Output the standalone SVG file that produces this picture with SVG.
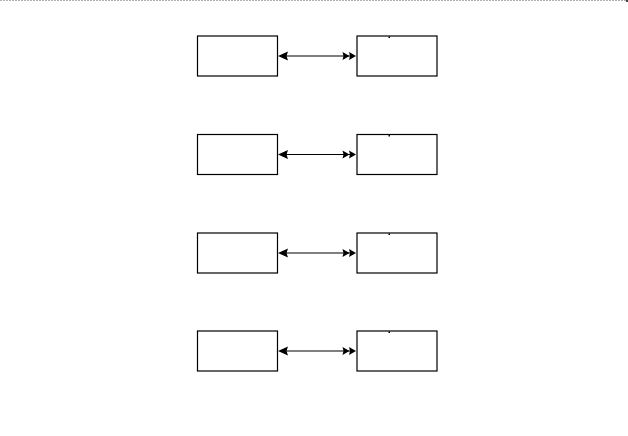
<svg xmlns="http://www.w3.org/2000/svg" width="628" height="436" viewBox="0 0 628 436">
<style>
.box{fill:#ffffff;stroke:#000000;stroke-width:1.2}
.dot{fill:#000000}
.conn{stroke:#000000;stroke-width:1.2;fill:none}
.ah{fill:#000000;stroke:none}
.frame{stroke:#b0b0b0;stroke-width:1;stroke-dasharray:2 1;fill:none}
</style>
<defs>
<g id="leftHead"><polygon class="ah" points="0,0 10,-4.5 8.5,0 10,4.5"/></g>
<g id="rightHead"><polygon class="ah" points="0,0 -7,-4 -6,0 -7,4"/><polygon class="ah" points="-6.5,0 -13.5,-4 -12.5,0 -13.5,4"/></g>
</defs>
<rect width="628" height="436" fill="#ffffff"/>
<line class="frame" x1="0" y1="0.5" x2="628" y2="0.5"/>
<rect x="626" y="0" width="2" height="2" fill="#444444"/>
<g id="node-L1"><rect class="box" x="197.5" y="36" width="80" height="40"/></g>
<g id="node-R1"><rect class="box" x="357" y="36" width="80" height="40"/><rect class="dot" x="388.5" y="36.5" width="1.5" height="1.5"/></g>
<g id="node-L2"><rect class="box" x="197.5" y="134.5" width="80" height="40"/></g>
<g id="node-R2"><rect class="box" x="357" y="134.5" width="80" height="40"/><rect class="dot" x="388.5" y="135" width="1.5" height="1.5"/></g>
<g id="node-L3"><rect class="box" x="197.5" y="233" width="80" height="40"/></g>
<g id="node-R3"><rect class="box" x="357" y="233" width="80" height="40"/><rect class="dot" x="388.5" y="233.5" width="1.5" height="1.5"/></g>
<g id="node-L4"><rect class="box" x="197.5" y="331" width="80" height="40"/></g>
<g id="node-R4"><rect class="box" x="357" y="331" width="80" height="40"/><rect class="dot" x="388.5" y="331.5" width="1.5" height="1.5"/></g>
<g id="connectors">
<line class="conn" x1="280" y1="56" x2="350" y2="56"/>
<use href="#leftHead" x="278" y="56"/>
<use href="#rightHead" x="356" y="56"/>
<line class="conn" x1="280" y1="154.5" x2="350" y2="154.5"/>
<use href="#leftHead" x="278" y="154.5"/>
<use href="#rightHead" x="356" y="154.5"/>
<line class="conn" x1="280" y1="253" x2="350" y2="253"/>
<use href="#leftHead" x="278" y="253"/>
<use href="#rightHead" x="356" y="253"/>
<line class="conn" x1="280" y1="351" x2="350" y2="351"/>
<use href="#leftHead" x="278" y="351"/>
<use href="#rightHead" x="356" y="351"/>
</g>
</svg>
